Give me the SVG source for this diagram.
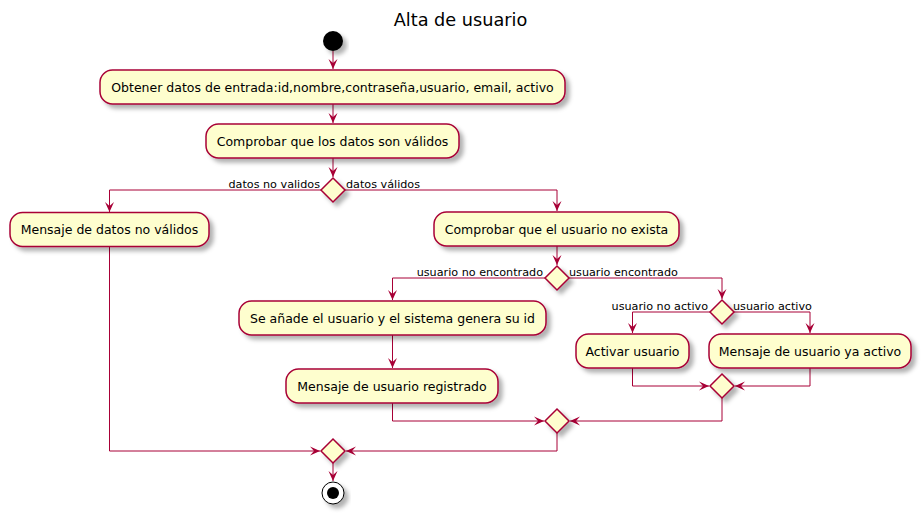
<svg xmlns="http://www.w3.org/2000/svg" width="921" height="513" viewBox="0 0 921 513">
<style>
.act{fill:#FEFECE;stroke:#A80036;stroke-width:1.5}
.dia{fill:#FEFECE;stroke:#A80036;stroke-width:1.5}
.ln{fill:none;stroke:#A80036;stroke-width:1}
.t{font-family:"DejaVu Sans",sans-serif;font-size:12.5px;fill:#000;text-anchor:middle}
.lb{font-family:"DejaVu Sans",sans-serif;font-size:11.2px;fill:#000}
.title{font-family:"DejaVu Sans",sans-serif;font-size:17.7px;fill:#000;text-anchor:middle}
</style>
<defs>
<filter id="sh" x="-20%" y="-20%" width="150%" height="180%">
<feDropShadow dx="4" dy="4" stdDeviation="2" flood-color="#000" flood-opacity="0.3"/>
</filter>
<marker id="arr" viewBox="0 0 10 12" refX="10" refY="6" markerWidth="10" markerHeight="12" markerUnits="userSpaceOnUse" orient="auto">
<polygon points="0,1.5 10,6 0,10.5 4,6" fill="#A80036"/>
</marker>
</defs>
<rect width="921" height="513" fill="#FFFFFF"/>
<text class="title" x="460.5" y="26">Alta de usuario</text>

<g id="connectors">
<line class="ln" x1="333" y1="51" x2="333" y2="69" marker-end="url(#arr)"/>
<line class="ln" x1="333" y1="104" x2="333" y2="123" marker-end="url(#arr)"/>
<line class="ln" x1="333" y1="158" x2="333" y2="177" marker-end="url(#arr)"/>
<polyline class="ln" points="321,190 109.5,190 109.5,212" marker-end="url(#arr)"/>
<polyline class="ln" points="345,190 557,190 557,211" marker-end="url(#arr)"/>
<line class="ln" x1="557" y1="246" x2="557" y2="265" marker-end="url(#arr)"/>
<polyline class="ln" points="545,278 392.5,278 392.5,300" marker-end="url(#arr)"/>
<polyline class="ln" points="569,278 722,278 722,299" marker-end="url(#arr)"/>
<polyline class="ln" points="710,312 632.5,312 632.5,333" marker-end="url(#arr)"/>
<polyline class="ln" points="734,312 810,312 810,333" marker-end="url(#arr)"/>
<line class="ln" x1="392.5" y1="335" x2="392.5" y2="368" marker-end="url(#arr)"/>
<polyline class="ln" points="632.5,368 632.5,386 709,386" marker-end="url(#arr)"/>
<polyline class="ln" points="810,368 810,386 735,386" marker-end="url(#arr)"/>
<polyline class="ln" points="392.5,403 392.5,421 544,421" marker-end="url(#arr)"/>
<polyline class="ln" points="722,398 722,421 570,421" marker-end="url(#arr)"/>
<polyline class="ln" points="109.5,246.5 109.5,451 320,451" marker-end="url(#arr)"/>
<polyline class="ln" points="557,433 557,451 346,451" marker-end="url(#arr)"/>
<line class="ln" x1="333" y1="463" x2="333" y2="481" marker-end="url(#arr)"/>
</g>

<g id="labels">
<text class="lb" x="320" y="187.5" text-anchor="end">datos no validos</text>
<text class="lb" x="346" y="187.5">datos válidos</text>
<text class="lb" x="543" y="275.5" text-anchor="end">usuario no encontrado</text>
<text class="lb" x="569" y="275.5">usuario encontrado</text>
<text class="lb" x="708" y="309.5" text-anchor="end">usuario no activo</text>
<text class="lb" x="733" y="309.5">usuario activo</text>
</g>

<g id="start"><circle cx="333" cy="41" r="10" fill="#000" filter="url(#sh)"/></g>

<g id="n1"><rect class="act" x="100" y="70" width="465" height="34" rx="12.5" filter="url(#sh)"/><text class="t" x="332.5" y="91.5">Obtener datos de entrada:id,nombre,contraseña,usuario, email, activo</text></g>
<g id="n2"><rect class="act" x="206" y="124" width="253" height="34" rx="12.5" filter="url(#sh)"/><text class="t" x="332.5" y="145.5">Comprobar que los datos son válidos</text></g>
<g id="d1"><polygon class="dia" points="333,178 345,190 333,202 321,190" filter="url(#sh)"/></g>
<g id="n3"><rect class="act" x="10" y="212.5" width="199" height="34" rx="12.5" filter="url(#sh)"/><text class="t" x="109.5" y="234">Mensaje de datos no válidos</text></g>
<g id="n4"><rect class="act" x="434" y="212" width="245" height="34" rx="12.5" filter="url(#sh)"/><text class="t" x="556.5" y="233.5">Comprobar que el usuario no exista</text></g>
<g id="d2"><polygon class="dia" points="557,266 569,278 557,290 545,278" filter="url(#sh)"/></g>
<g id="n5"><rect class="act" x="239" y="301" width="307" height="34" rx="12.5" filter="url(#sh)"/><text class="t" x="392.5" y="322.5">Se añade el usuario y el sistema genera su id</text></g>
<g id="d3"><polygon class="dia" points="722,300 734,312 722,324 710,312" filter="url(#sh)"/></g>
<g id="n7"><rect class="act" x="576" y="334" width="113" height="34" rx="12.5" filter="url(#sh)"/><text class="t" x="632.5" y="355.5">Activar usuario</text></g>
<g id="n8"><rect class="act" x="709" y="334" width="202" height="34" rx="12.5" filter="url(#sh)"/><text class="t" x="810" y="355.5">Mensaje de usuario ya activo</text></g>
<g id="n6"><rect class="act" x="286" y="369" width="212" height="34" rx="12.5" filter="url(#sh)"/><text class="t" x="392" y="390.5">Mensaje de usuario registrado</text></g>
<g id="d4"><polygon class="dia" points="722,374 734,386 722,398 710,386" filter="url(#sh)"/></g>
<g id="d5"><polygon class="dia" points="557,409 569,421 557,433 545,421" filter="url(#sh)"/></g>
<g id="d6"><polygon class="dia" points="333,439 345,451 333,463 321,451" filter="url(#sh)"/></g>
<g id="end"><circle cx="333" cy="493" r="11" fill="#FFFFFF" stroke="#000" stroke-width="1" filter="url(#sh)"/><circle cx="333" cy="493" r="6" fill="#000"/></g>
</svg>
